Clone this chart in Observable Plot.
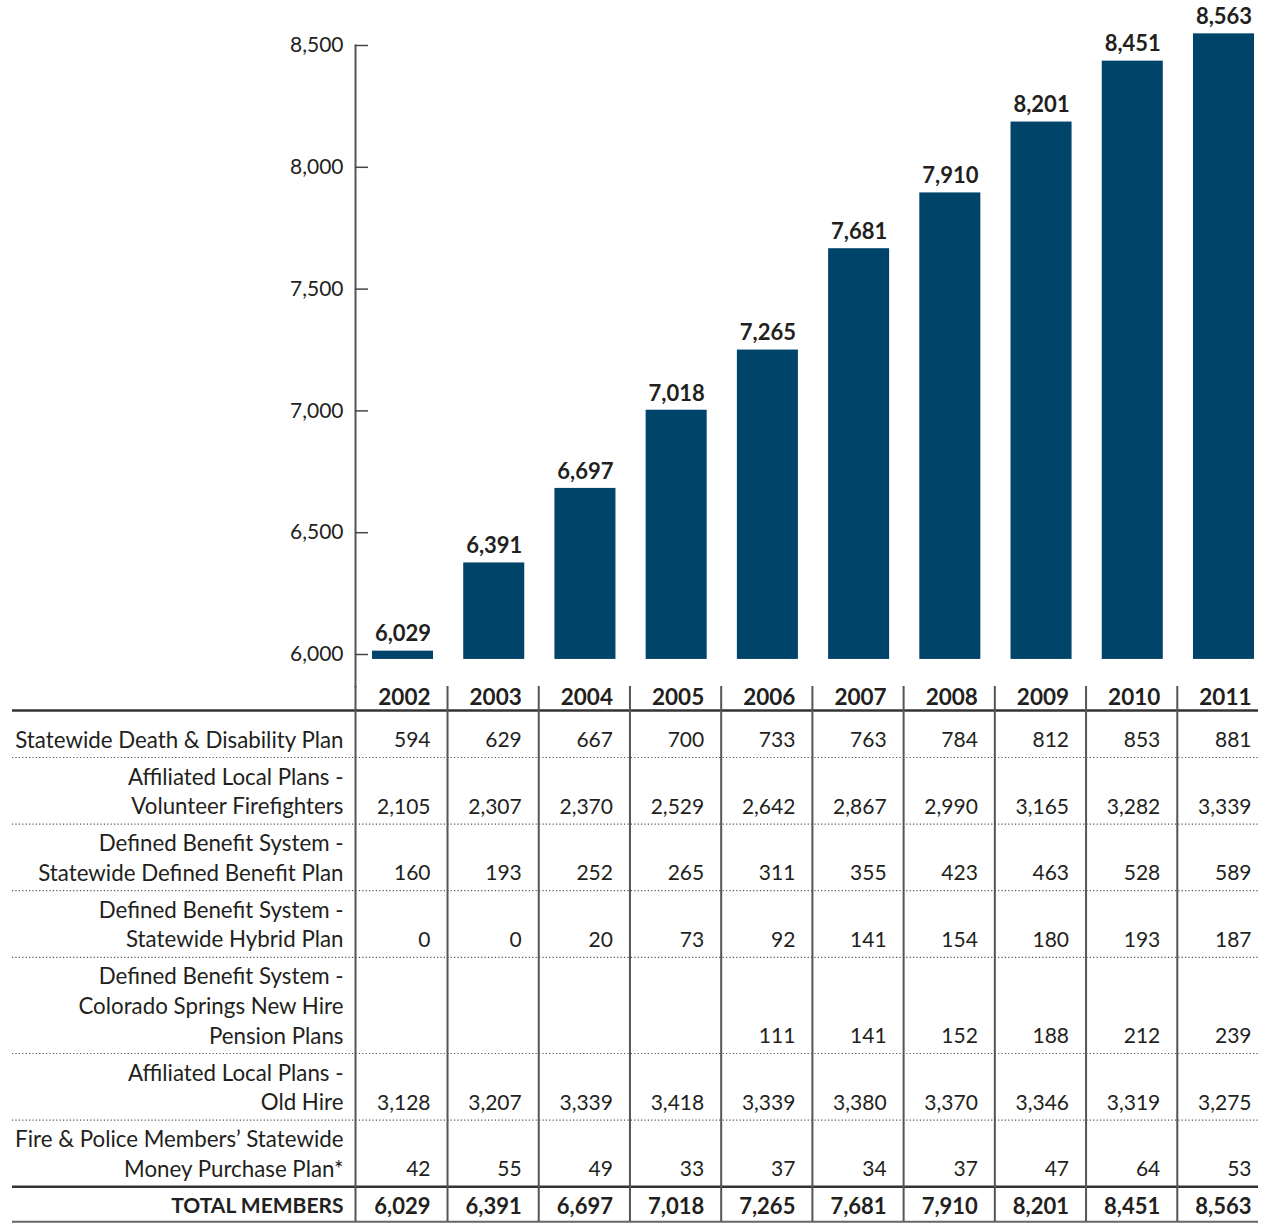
<!DOCTYPE html>
<html><head><meta charset="utf-8">
<script src="https://cdn.jsdelivr.net/npm/d3@7"></script>
<script src="https://cdn.jsdelivr.net/npm/@observablehq/plot@0.6"></script>
<style>
body{margin:0;background:#fff}
#chart svg{display:block}
</style>
</head><body><div id="chart"></div>
<script>
// ---- data ----
const years = ["2002","2003","2004","2005","2006","2007","2008","2009","2010","2011"];
const totals = [6029,6391,6697,7018,7265,7681,7910,8201,8451,8563];
const yTicks = [6000,6500,7000,7500,8000,8500];

const rowLabels = [
  ["Statewide Death & Disability Plan"],
  ["Affiliated Local Plans -","Volunteer Firefighters"],
  ["Defined Benefit System -","Statewide Defined Benefit Plan"],
  ["Defined Benefit System -","Statewide Hybrid Plan"],
  ["Defined Benefit System -","Colorado Springs New Hire","Pension Plans"],
  ["Affiliated Local Plans -","Old Hire"],
  ["Fire & Police Members’ Statewide","Money Purchase Plan*"]
];
const deathDisability = [594,629,667,700,733,763,784,812,853,881];
const volunteerFF     = [2105,2307,2370,2529,2642,2867,2990,3165,3282,3339];
const statewideDB     = [160,193,252,265,311,355,423,463,528,589];
const hybridPlan      = [0,0,20,73,92,141,154,180,193,187];
const coSpringsNewHire= [null,null,null,null,111,141,152,188,212,239];
const oldHire         = [3128,3207,3339,3418,3339,3380,3370,3346,3319,3275];
const moneyPurchase   = [42,55,49,33,37,34,37,47,64,53];
const rowValues = [deathDisability, volunteerFF, statewideDB, hybridPlan, coSpringsNewHire, oldHire, moneyPurchase];
const totalLabel = "TOTAL MEMBERS";

// ---- layout ----
const W = 1270, chartH = 686, tableH = 538;
const FONT = "Lato, 'Open Sans', sans-serif";
const TXT = "#231f20", BAR = "#00446a";
const xRange = [372, 1254];
const padIn = 0.331;
const band = d3.scaleBand().domain(years).range(xRange).paddingInner(padIn).paddingOuter(0);
const bw = band.bandwidth();
const xOpts = {type: "band", domain: years, range: xRange, paddingInner: padIn, paddingOuter: 0, align: 0, round: false, axis: null};
const fmt = d3.format(",");

const barData = years.map((y, i) => ({year: y, total: totals[i]}));

const chart = Plot.plot({
  width: W, height: chartH,
  marginTop: 45, marginBottom: 0, marginLeft: 355, marginRight: 12,
  style: {fontFamily: FONT, fontSize: "21px", color: TXT, background: "#fff", overflow: "visible"},
  x: xOpts,
  y: {domain: [6000, 8500], range: [654, 45]},
  marks: [
    Plot.frame({anchor: "left", stroke: "#555", strokeWidth: 2}),
    Plot.axisY({ticks: yTicks, tickSize: 13, dx: 13, tickPadding: 12, tickFormat: fmt, label: null, stroke: "#444", strokeWidth: 1.5}),
    Plot.barY(barData, {x: "year", y1: 5995, y2: "total", dy: 3.7, fill: BAR}),
    Plot.text(barData, {x: "year", y: "total", text: d => fmt(d.total), dy: -13, fontWeight: "bold", fontSize: 22, fill: TXT})
  ]
});

// table layout (computed from line counts)
const headY = 11, headLine = 24, firstLine = 54, lineStep = 29.6, sepAfter = 17, sepBefore = 20;
const labelLines = [], cells = [], dotted = [];
let yCur = firstLine;
rowLabels.forEach((lines, i) => {
  lines.forEach((t, j) => labelLines.push({text: t, y: yCur + j * lineStep}));
  const last = yCur + (lines.length - 1) * lineStep;
  rowValues[i].forEach((v, k) => { if (v != null) cells.push({year: years[k], y: last, v}); });
  if (i < rowLabels.length - 1) dotted.push(last + sepAfter);
  yCur = last + sepAfter + sepBefore;
});
const totalSep = yCur - sepBefore;
const totalY = yCur;
const bottomLine = totalY + 15;
const totalCells = years.map((y, i) => ({year: y, y: totalY, v: totals[i]}));

const table = Plot.plot({
  width: W, height: tableH,
  marginTop: 0, marginBottom: 0, marginLeft: 12, marginRight: 12,
  style: {fontFamily: FONT, fontSize: "21px", color: TXT, background: "#fff", overflow: "visible"},
  x: xOpts,
  y: {type: "linear", domain: [0, tableH], range: [0, tableH], axis: null},
  marks: [
    Plot.ruleY(dotted, {stroke: "#555", strokeWidth: 1.2, strokeDasharray: "1.2,2.2"}),
    Plot.ruleY([headLine, totalSep], {stroke: "#333", strokeWidth: 2.5}),
    Plot.ruleY([bottomLine], {stroke: "#666", strokeWidth: 2}),
    Plot.ruleX(["2002"], {x: d => d, dx: -bw / 2 - 17, y1: 0, y2: bottomLine, stroke: "#555", strokeWidth: 2}),
    Plot.ruleX(years.slice(0, -1), {x: d => d, dx: bw / 2 + 14, y1: 0, y2: bottomLine, stroke: "#555", strokeWidth: 2}),
    Plot.text(years, {x: d => d, y: headY, text: d => d, textAnchor: "end", dx: bw / 2 - 3, fontWeight: "bold", fontSize: 22.5}),
    Plot.text(labelLines, {y: "y", text: "text", frameAnchor: "left", textAnchor: "end", dx: 331, fontSize: 22.3}),
    Plot.text(cells, {x: "year", y: "y", text: d => fmt(d.v), textAnchor: "end", dx: bw / 2 - 3}),
    Plot.text([totalLabel], {y: totalY, text: d => d, frameAnchor: "left", textAnchor: "end", dx: 331, fontWeight: "bold"}),
    Plot.text(totalCells, {x: "year", y: "y", text: d => fmt(d.v), textAnchor: "end", dx: bw / 2 - 3, fontWeight: "bold", fontSize: 22})
  ]
});

const root = document.getElementById("chart");
root.appendChild(chart);
root.appendChild(table);
</script>
</body></html>
